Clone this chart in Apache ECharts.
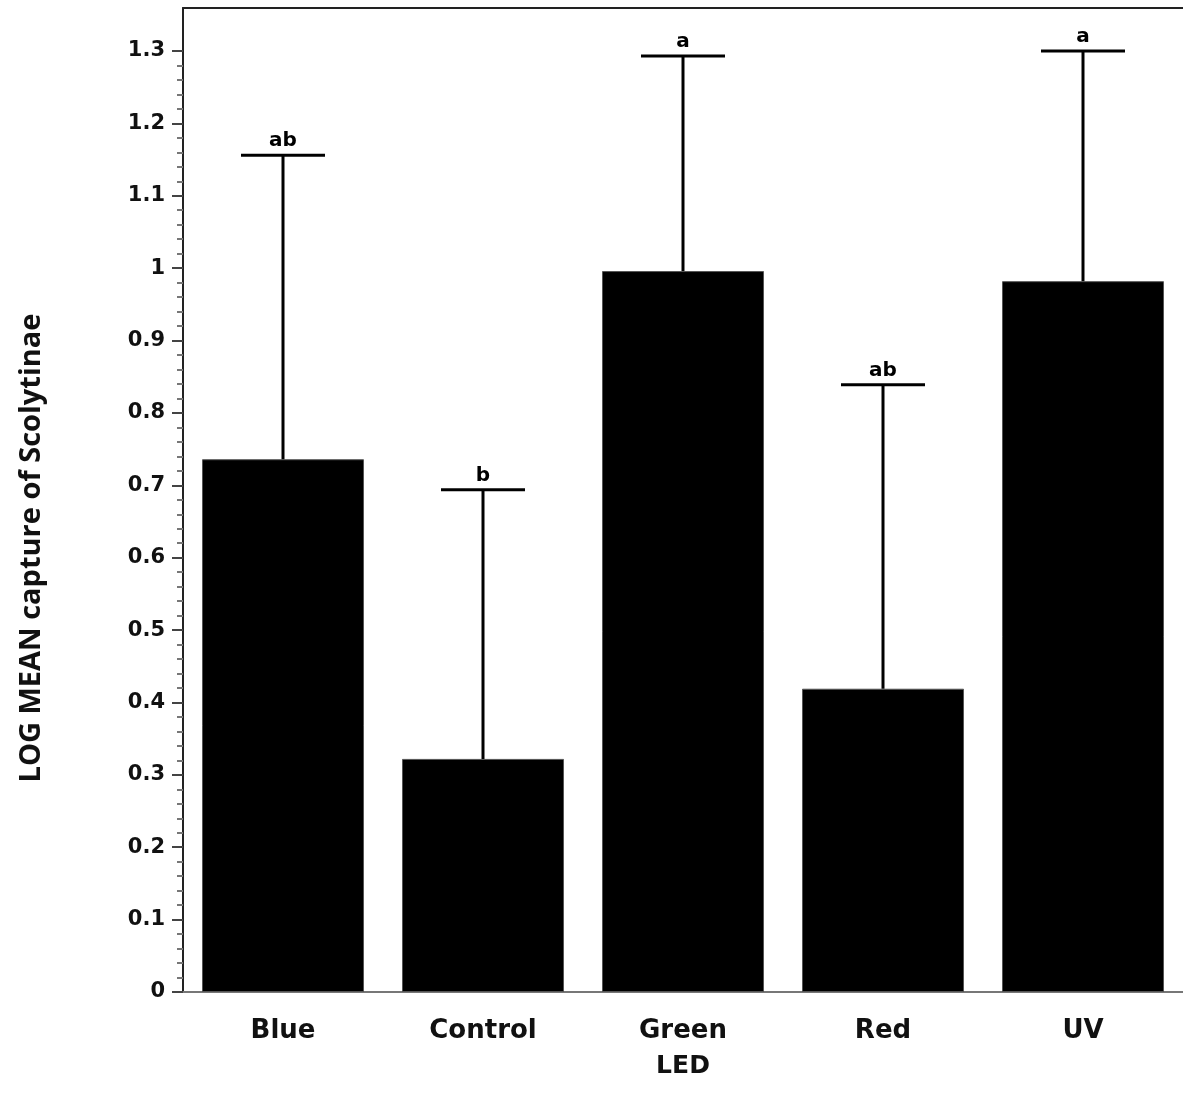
<!DOCTYPE html>
<html>
<head>
<meta charset="utf-8">
<script src="https://cdn.jsdelivr.net/npm/echarts@6/dist/echarts.min.js"></script>
<style>html,body{margin:0;padding:0;background:#fff;}#chart{width:1183px;height:1107px;}</style>
</head>
<body>
<div id="chart"></div>
<script>
var categories = ['Blue', 'Control', 'Green', 'Red', 'UV'];
var means = [0.736, 0.322, 0.996, 0.419, 0.982];
var upperLimits = [1.156, 0.694, 1.293, 0.839, 1.300];
var letters = ['ab', 'b', 'a', 'ab', 'a'];

var chart = echarts.init(document.getElementById('chart'));
var errData = categories.map(function (c, i) { return [i, means[i], upperLimits[i], letters[i]]; });

chart.setOption({
  animation: false,
  backgroundColor: '#ffffff',
  grid: [
    { left: 183, top: 51, right: 0, bottom: 115 },
    { left: 183, top: 8, right: 0, bottom: 115 }
  ],
  xAxis: [
    {
      type: 'category',
      gridIndex: 0,
      data: categories,
      axisLine: { lineStyle: { color: '#777', width: 2 } },
      axisTick: { show: false },
      axisLabel: { color: '#111', fontFamily: 'DejaVu Sans', fontWeight: 'bold', fontSize: 26, margin: 26 },
      name: 'LED',
      nameLocation: 'middle',
      nameGap: 62,
      nameTextStyle: { color: '#111', fontFamily: 'DejaVu Sans', fontWeight: 'bold', fontSize: 25 }
    },
    {
      type: 'value',
      gridIndex: 1,
      position: 'top',
      min: 0,
      max: 1,
      axisLine: { show: true, onZero: false, lineStyle: { color: '#222', width: 2 } },
      axisTick: { show: false },
      axisLabel: { show: false },
      splitLine: { show: false }
    }
  ],
  yAxis: [
    {
      type: 'value',
      gridIndex: 0,
      min: 0,
      max: 1.3,
      interval: 0.1,
      splitLine: { show: false },
      axisLine: { show: false },
      axisTick: { show: true, length: 11, lineStyle: { color: '#444', width: 2 } },
      minorTick: { show: true, splitNumber: 5, length: 6, lineStyle: { color: '#777', width: 2 } },
      axisLabel: {
        color: '#111', fontFamily: 'DejaVu Sans', fontWeight: 'bold', fontSize: 21, margin: 18,
        formatter: function (v) { return String(Math.round(v * 10) / 10); }
      }
    },
    {
      type: 'value',
      gridIndex: 1,
      min: 0,
      max: 1,
      axisLine: { show: true, onZero: false, lineStyle: { color: '#222', width: 2 } },
      axisTick: { show: false },
      axisLabel: { show: false },
      splitLine: { show: false },
      name: 'LOG MEAN capture of Scolytinae',
      nameLocation: 'middle',
      nameGap: 137,
      nameRotate: 90,
      nameTextStyle: { color: '#111', fontFamily: 'Open Sans', fontWeight: 'bold', fontSize: 29, padding: [0, 96, 0, 0] }
    }
  ],
  series: [
    {
      type: 'bar',
      xAxisIndex: 0,
      yAxisIndex: 0,
      data: means,
      barWidth: '81%',
      itemStyle: { color: '#000', borderColor: '#555', borderWidth: 1 },
      z: 2
    },
    {
      type: 'custom',
      xAxisIndex: 0,
      yAxisIndex: 0,
      data: errData,
      z: 3,
      clip: false,
      renderItem: function (params, api) {
        var i = api.value(0);
        var base = api.coord([i, api.value(1)]);
        var top = api.coord([i, api.value(2)]);
        var half = api.size([1, 0])[0] * 0.21;
        var style = { stroke: '#000', lineWidth: 3 };
        return {
          type: 'group',
          children: [
            { type: 'line', shape: { x1: top[0], y1: base[1], x2: top[0], y2: top[1] }, style: style },
            { type: 'line', shape: { x1: top[0] - half, y1: top[1], x2: top[0] + half, y2: top[1] }, style: style },
            { type: 'text', style: { text: letters[params.dataIndex], x: top[0], y: top[1] - 4, textAlign: 'center', textVerticalAlign: 'bottom', fill: '#000', font: 'bold 20px "DejaVu Sans"' } }
          ]
        };
      }
    }
  ]
});
</script>
</body>
</html>
